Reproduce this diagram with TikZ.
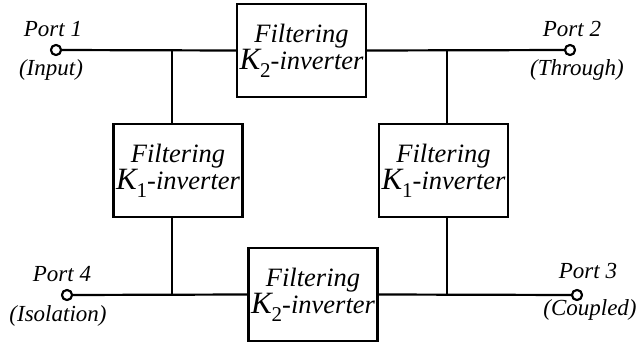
\documentclass[tikz,border=0pt]{standalone}
\usepackage{fontspec}
\setmainfont{Liberation Serif}
\begin{document}
\begin{tikzpicture}[x=1pt,y=-1pt,
  wire/.style={line width=2.2pt},
  blk/.style={draw, line width=2.4pt, fill=white, inner sep=0pt,
    minimum width=129pt, minimum height=93pt, align=center,
    font=\fontsize{26.5}{27}\selectfont\itshape},
  port/.style={circle, draw, fill=white, line width=2pt,
    minimum size=10pt, inner sep=0pt},
  plabel/.style={anchor=base, inner sep=0pt,
    font=\fontsize{23}{24}\selectfont\itshape}]
\useasboundingbox (0,0) rectangle (636,345);

% inverter label: K with lowered subscript
\newcommand{\kinv}[1]{{\fontsize{31}{31}\selectfont K}\raisebox{-8pt}{\fontsize{21}{21}\selectfont\upshape #1}-inverter}

% filtering inverter blocks
\node[blk] (top) at (301.5,50.5) {Filtering\\\kinv{2}};
\node[blk] (left) at (178,170.5) {Filtering\\\kinv{1}};
\node[blk] (right) at (443.5,170.5) {Filtering\\\kinv{1}};
\node[blk] (bot) at (313,294.5) {Filtering\\\kinv{2}};

% ports
\node[port] (p1) at (56,50) {};
\node[port] (p2) at (570,50) {};
\node[port] (p3) at (577,295) {};
\node[port] (p4) at (67,295) {};

% branch junctions
\coordinate (j1) at (172,50);
\coordinate (j2) at (447,50);
\coordinate (j3) at (172,295);
\coordinate (j4) at (447,295);

% wiring
\draw[wire] (p1) -- (top.west);
\draw[wire] (top.east) -- (p2);
\draw[wire] (p4) -- (bot.west);
\draw[wire] (bot.east) -- (p3);
\draw[wire] (j1) -- (j1 |- left.north);
\draw[wire] (j1 |- left.south) -- (j3);
\draw[wire] (j2) -- (j2 |- right.north);
\draw[wire] (j2 |- right.south) -- (j4);

% redraw ports on top of wires
\node[port] at (p1) {};
\node[port] at (p2) {};
\node[port] at (p3) {};
\node[port] at (p4) {};

% port labels
\node[plabel] (l1) at (53,37) {Port 1};
\node[plabel] (l1b) at (51,75) {(Input)};
\node[plabel] (l2) at (572,37) {Port 2};
\node[plabel] (l2b) at (577,75) {(Through)};
\node[plabel] (l4) at (62,281) {Port 4};
\node[plabel] (l4b) at (58,321.5) {(Isolation)};
\node[plabel] (l3) at (588,278) {Port 3};
\node[plabel] (l3b) at (590,315) {(Coupled)};
\end{tikzpicture}
\end{document}
